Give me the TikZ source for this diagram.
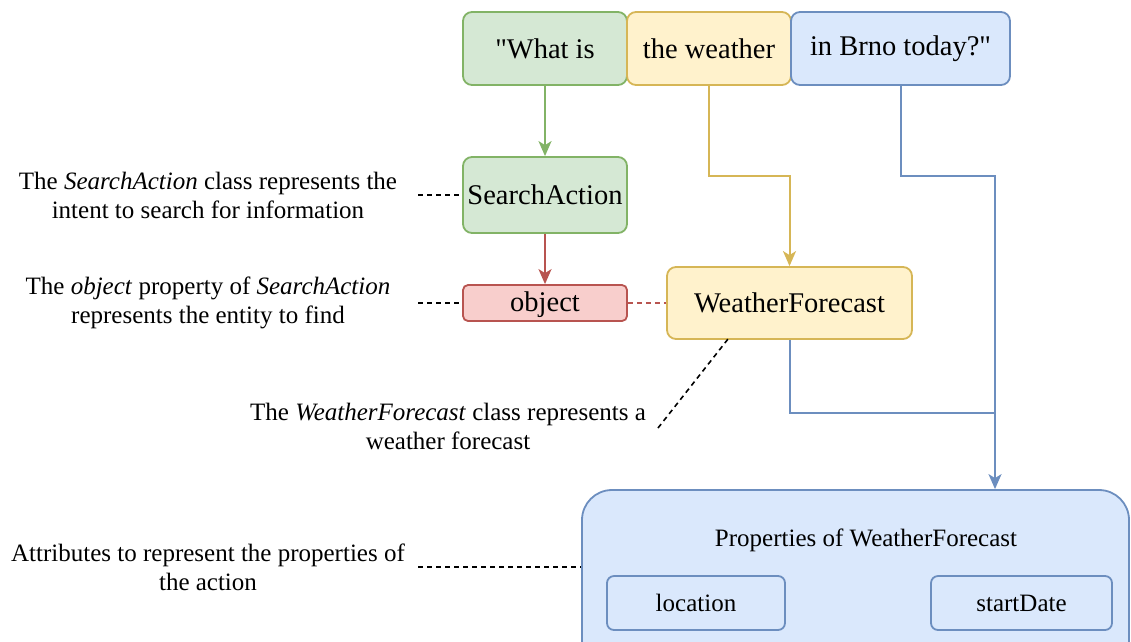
\documentclass[tikz,border=0pt]{standalone}
\usepackage{fontspec}
\setmainfont{Liberation Serif}[Ligatures=TeXOff]
\usetikzlibrary{arrows.meta}
\tikzset{>={Stealth[length=15pt,width=13pt,inset=4pt]}}
\definecolor{mygreen}{HTML}{82B366}
\definecolor{mylightgreen}{HTML}{D5E8D4}
\definecolor{myyellow}{HTML}{D6B656}
\definecolor{mylightyellow}{HTML}{FFF2CC}
\definecolor{myblue}{HTML}{6C8EBF}
\definecolor{mylightblue}{HTML}{DAE8FC}
\definecolor{myred}{HTML}{B85450}
\definecolor{mylightred}{HTML}{F8CECC}
\tikzstyle{box}=[rounded corners=9,line width=1.8,inner sep=0,font=\fontsize{28.5}{32}\selectfont]
\tikzstyle{green box}=[box,draw=mygreen,fill=mylightgreen]
\tikzstyle{yellow box}=[box,draw=myyellow,fill=mylightyellow]
\tikzstyle{blue box}=[box,draw=myblue,fill=mylightblue]
\tikzstyle{red box}=[box,draw=myred,fill=mylightred]
\tikzstyle{small text}=[font=\fontsize{25}{29}\selectfont]
\tikzstyle{note}=[small text,align=center]
\tikzstyle{note line}=[black,line width=1.6,dash pattern=on 5pt off 4pt]
\tikzstyle{link}=[line width=2]

\begin{document}
\begin{tikzpicture}[x=1pt,y=-1pt]
  \clip (0,0) rectangle (1131,641);

  % SENTENCE
  \node[green box,minimum width=164,minimum height=73] (what) at (545,48.5) {"What is};
  \node[yellow box,minimum width=164,minimum height=73] (weather) at (709,48.5) {the weather};
  \node[blue box,minimum width=219,minimum height=73] (brno) at (900.5,48.5) {in Brno today?"};

  % CLASSES
  \node[green box,minimum width=164,minimum height=76] (search) at (545,195) {SearchAction};
  \node[red box,minimum width=164,minimum height=36,rounded corners=5,text depth=2] (object) at (545,303) {object};
  \node[yellow box,minimum width=245,minimum height=72] (forecast) at (789.5,303) {WeatherForecast};

  % PROPERTIES
  \node[blue box,rounded corners=30,minimum width=547,minimum height=180] (props) at (855.5,580) {};
  \node[small text] (propstitle) at (866,540) {Properties of WeatherForecast};
  \node[blue box,small text,rounded corners=7,minimum width=178,minimum height=54] (location) at (696,603) {location};
  \node[blue box,small text,rounded corners=7,minimum width=181,minimum height=54] (startdate) at (1021.5,603) {startDate};

  % CONNECTORS
  \coordinate (ybend) at (0,176);
  \coordinate (bturn) at (995,176);
  \coordinate (bjoin) at (995,413);
  \draw[link,mygreen,->] (what) -- (search);
  \draw[link,myred,->] (search) -- (object);
  \draw[link,myred,dash pattern=on 5pt off 4pt] (object) -- (forecast);
  \draw[link,myyellow,->] (weather.south) -- (weather.south |- ybend) -| (forecast.north);
  \draw[link,myblue,->] (brno.south) |- (bturn) -- (bturn |- props.north);
  \draw[link,myblue] (forecast.south) |- (bjoin);

  % NOTES
  \node[note] (searchnote) at (208,195) {The \textit{SearchAction} class represents the\\intent to search for information};
  \node[note] (objectnote) at (208,303) {The \textit{object} property of \textit{SearchAction}\\represents the entity to find};
  \node[note] (propsnote) at (208,567) {Attributes to represent the properties of\\the action};
  \node[note] (forecastnote) at (448,426) {The \textit{WeatherForecast} class represents a\\weather forecast};
  \coordinate (noteend) at (418,0);
  \coordinate (fnote) at (658,428);
  \coordinate (fhook) at (728,339);
  \draw[note line] (noteend |- searchnote) -- (search.west);
  \draw[note line] (noteend |- objectnote) -- (object.west);
  \draw[note line] (noteend |- propsnote) -- (propsnote -| props.west);
  \draw[note line] (fnote) -- (fhook);

\end{tikzpicture}
\end{document}
